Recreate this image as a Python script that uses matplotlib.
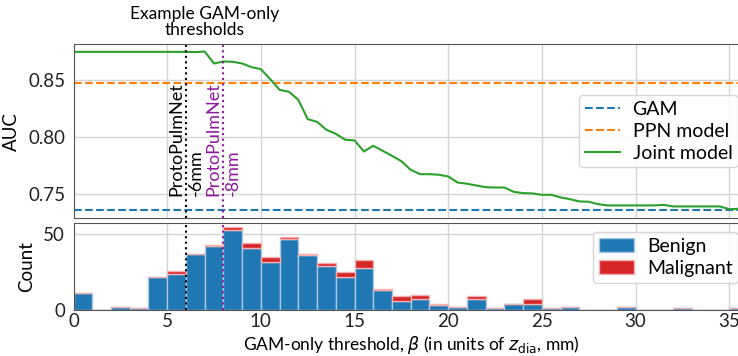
import numpy as np
import matplotlib
matplotlib.use("Agg")
import matplotlib.pyplot as plt
import matplotlib.transforms as mtransforms

plt.rcParams['font.family'] = ['Lato', 'DejaVu Sans']
plt.rcParams['font.size'] = 13

# ---- data ----
gam_auc = 0.736
ppn_auc = 0.8477

joint_x = [i * 0.5 for i in range(72)]  # thresholds 0 .. 35.5
joint_auc = [
    0.8751, 0.8751, 0.8751, 0.8751, 0.8751, 0.8751, 0.8751, 0.8751, 0.8751, 0.8751,
    0.8751, 0.8751, 0.8751, 0.8749, 0.8754, 0.8649, 0.8667, 0.8664, 0.8649, 0.8617,
    0.8599, 0.8512, 0.8418, 0.8401, 0.8330, 0.8161, 0.8137, 0.8067, 0.8032, 0.7980,
    0.7974, 0.7877, 0.7927, 0.7883, 0.7839, 0.7792, 0.7716, 0.7678, 0.7678, 0.7673,
    0.7658, 0.7605, 0.7594, 0.7579, 0.7564, 0.7561, 0.7561, 0.7523, 0.7512, 0.7509,
    0.7497, 0.7497, 0.7474, 0.7459, 0.7439, 0.7436, 0.7415, 0.7404, 0.7404, 0.7404,
    0.7404, 0.7404, 0.7404, 0.7409, 0.7395, 0.7395, 0.7395, 0.7395, 0.7395, 0.7395,
    0.7371, 0.7374,
]

bin_edges = list(range(37))
benign = [11, 0, 2, 1, 22, 24, 37, 42, 53, 41, 32, 47, 36, 29, 22, 28, 13, 6,
          7, 3, 2, 7, 1, 4, 4, 1, 2, 0, 0, 2, 0, 0, 1, 0, 0, 1]
malignant = [0, 0, 0, 0, 0, 2, 0, 1, 2, 3, 3, 1, 1, 2, 3, 5, 1, 3,
             3, 1, 0, 2, 0, 0, 3, 0, 0, 0, 0, 0, 0, 0, 0, 0, 0, 0]

example_thresholds = [6, 8]
example_labels = ["ProtoPulmNet\n-6mm", "ProtoPulmNet\n-8mm"]
example_colors = ["black", "#8e1a9e"]

# ---- figure ----
W, H = 738, 356
fig = plt.figure(figsize=(W / 100, H / 100), dpi=100)
left = 73.5 / W
width = (748 - 73.5) / W
ax1 = fig.add_axes([left, (H - 218.3) / H, width, (218.3 - 44) / H])
ax2 = fig.add_axes([left, (H - 310) / H, width, (310 - 222.5) / H], sharex=ax1)

grid_kw = dict(color='#d5d5d5', linewidth=1.0)
spine_col = '#555555'
for ax in (ax1, ax2):
    ax.grid(True, **grid_kw)
    ax.set_axisbelow(True)
    for s in ax.spines.values():
        s.set_color(spine_col)
    ax.tick_params(axis='both', length=0, labelsize=13.5, labelcolor='#222222')
    ax.tick_params(axis='x', pad=2)
    ax.tick_params(axis='y', pad=6)

# top panel
ax1.axhline(gam_auc, color='tab:blue', linestyle='--', linewidth=1.5, label='GAM')
ax1.axhline(ppn_auc, color='tab:orange', linestyle='--', linewidth=1.5, label='PPN model')
ax1.plot(joint_x, joint_auc, color='tab:green', linewidth=1.5, label='Joint model')
ax1.set_ylim(0.7291, 0.8820)
ax1.set_yticks([0.75, 0.80, 0.85])
ax1.set_ylabel('AUC', fontsize=13.5, labelpad=6)
ax1.tick_params(labelbottom=False)
ax1.legend(loc='center right', framealpha=0.8, fontsize=14, handlelength=1.8,
           handletextpad=0.65, labelspacing=0.25, borderpad=0.3)

for t, lab, c in zip(example_thresholds, example_labels, example_colors):
    ax1.axvline(t, color=c, linestyle=':', linewidth=1.5)
    ax2.axvline(t, color=c, linestyle=':', linewidth=1.5)
    ax1.text(t, 0.7489, lab, rotation=90, ha='center', va='bottom',
             multialignment='left', color=c, fontsize=13, linespacing=1.25)

trans = mtransforms.blended_transform_factory(ax1.transData, ax1.transAxes)
ax1.text(np.mean(example_thresholds), 1.035, "Example GAM-only\nthresholds",
         transform=trans, ha='center', va='bottom', fontsize=12.5, linespacing=1.0)

# bottom panel (stacked histogram)
lefts = np.array(bin_edges[:-1])
ax2.bar(lefts, benign, width=1.0, align='edge', color='#1f77b4',
        edgecolor='#a9c9e3', linewidth=1.0, label='Benign')
ax2.bar(lefts, malignant, width=1.0, align='edge', bottom=benign, color='#d62728',
        edgecolor='#f3b0b0', linewidth=1.0, label='Malignant')
ax2.set_xlim(bin_edges[0], bin_edges[-1])
ax2.set_ylim(0, 57.75)
ax2.set_yticks([0, 50])
ax2.set_xticks([0, 5, 10, 15, 20, 25, 30, 35])
ax2.set_ylabel('Count', fontsize=13.5, labelpad=6)
ax2.set_xlabel(r'GAM-only threshold, $\beta$ (in units of $z_{\mathrm{dia}}$, mm)',
               fontsize=12.5, labelpad=3)
ax2.legend(loc='upper right', framealpha=0.8, fontsize=14, handlelength=1.8,
           handletextpad=0.65, labelspacing=0.25, borderpad=0.3)

fig.savefig('out.png', dpi=100)
